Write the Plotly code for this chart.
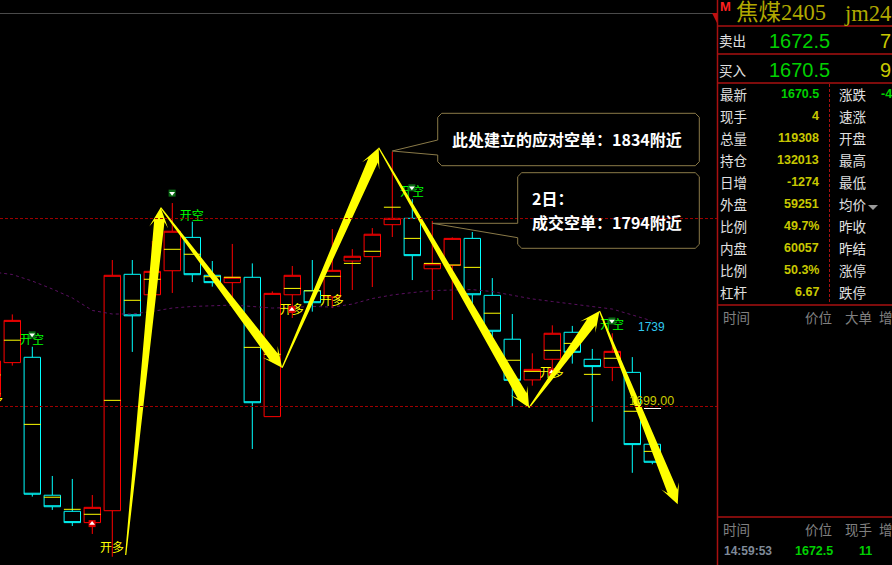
import plotly.graph_objects as go
import math

FONT = "Noto Sans CJK SC"
W, H, CW = 892, 565, 717

# ---- data ----
bars = list(range(-1, 33))
opens = [1703.9, 1721.1, 1723.8, 1654.3, 1646.2, 1640.5, 1646.5, 1765.6, 1755.3, 1767.4, 1784.2, 1765.1, 1761.4, 1764.1, 1693.9, 1755.3, 1757.3, 1754.2, 1772.3, 1774.5, 1790.6, 1793.8, 1768.4, 1770.1, 1783.7, 1755.0, 1732.9, 1712.4, 1722.8, 1736.4, 1722.8, 1718.7, 1716.2, 1680.0]
closes = [1721.9, 1742.4, 1654.8, 1648.5, 1640.5, 1648.2, 1765.1, 1744.7, 1767.1, 1787.3, 1765.4, 1761.4, 1764.1, 1700.9, 1756.0, 1765.1, 1751.3, 1767.6, 1774.7, 1785.8, 1793.8, 1775.0, 1770.9, 1783.7, 1755.3, 1736.9, 1712.2, 1717.7, 1735.9, 1726.3, 1719.1, 1726.8, 1679.8, 1670.9]
highs = [1723.4, 1745.4, 1729.1, 1664.0, 1662.5, 1654.4, 1772.8, 1772.8, 1782.4, 1801.5, 1792.1, 1772.3, 1780.9, 1771.1, 1757.0, 1769.8, 1772.8, 1788.4, 1778.3, 1788.9, 1827.4, 1803.5, 1792.5, 1784.2, 1786.9, 1763.7, 1745.6, 1725.8, 1739.9, 1739.6, 1728.0, 1735.9, 1723.9, 1680.0]
lows = [1703.3, 1719.6, 1653.6, 1646.9, 1638.8, 1634.8, 1623.3, 1726.5, 1755.3, 1756.2, 1761.7, 1759.4, 1749.1, 1677.6, 1693.9, 1743.6, 1746.8, 1748.6, 1757.7, 1759.2, 1784.4, 1762.7, 1752.7, 1742.6, 1747.6, 1731.0, 1698.9, 1709.5, 1715.9, 1720.6, 1691.3, 1711.8, 1665.6, 1669.9]
settle = [1714.9, 1732.4, 1690.0, 1653.3, 1647.2, 1644.7, 1702.1, 1752.5, 1763.1, 1778.2, 1775.7, 1764.4, 1764.1, 1728.8, 1725.3, 1758.5, 1757.3, 1764.6, 1771.1, 1777.2, 1799.4, 1783.7, 1771.1, 1770.3, 1769.1, 1746.0, 1722.3, 1716.7, 1727.3, 1730.8, 1715.2, 1723.3, 1696.6, 1676.4]
ma = [1766.8, 1765.5, 1762.2, 1758.2, 1753.7, 1747.4, 1745.6, 1745.6, 1746.9, 1748.6, 1749.4, 1749.6, 1750.1, 1749.4, 1748.6, 1748.9, 1749.4, 1749.1, 1750.6, 1753.4, 1755.2, 1756.4, 1757.4, 1757.7, 1757.9, 1756.9, 1755.2, 1753.2, 1751.9, 1750.6, 1749.6, 1748.1, 1745.1, 1742.1]

wave_x = [5.67, 7.42, 13.49, 18.32, 25.84, 29.36, 33.27]
wave_y = [1624.2, 1799.2, 1718.5, 1829.4, 1698.4, 1747.1, 1649.7]

long_x, long_y = [-1.06, 4.99, 13.97, 15.97, 26.97], [1702.5, 1627.2, 1746.9, 1751.9, 1715.4]
short_x, short_y = [0.99, 8.97, 19.98, 29.98], [1732.1, 1794.6, 1806.5, 1739.6]
buy_x, buy_y = [3.99, 13.98, 26.97], [1640.0, 1747.9, 1716.4]
sell_x, sell_y = [7.99, 0.99, 19.98, 29.98], [1806.5, 1735.1, 1809.2, 1742.1]

ref_levels = [1793.7, 1699]
X0, X1 = -0.615, 35.235
Y0, Y1 = 1619.15, 1903.8
PXX, PXY = 20.0, 1.985

callouts = [
    dict(l=437.7, r=699.3, t=113.3, b=165.7, tipx=392.3, tipy=151.0, j1=140.0, j2=155.0),
    dict(l=517.7, r=699.3, t=172.7, b=248.3, tipx=432.3, tipy=223.3, j1=223.3, j2=237.7),
]
rows_left = ["最新", "现手", "总量", "持仓", "日增", "外盘", "比例", "内盘", "比例", "杠杆"]
rows_val = ["1670.5", "4", "119308", "132013", "-1274", "59251", "49.7%", "60057", "50.3%", "6.67"]
rows_right = ["涨跌", "速涨", "开盘", "最高", "最低", "均价", "昨收", "昨结", "涨停", "跌停"]


def px_x(x):
    return x / W


def px_y(y):
    return 1 - y / H


def arrow(x0, y0, x1, y1):
    ax, ay = x0 * PXX, y0 * PXY
    bx, by = x1 * PXX, y1 * PXY
    L = math.hypot(bx - ax, by - ay)
    ux, uy = (bx - ax) / L, (by - ay) / L
    nx, ny = -uy, ux
    prof = [(0, 0.6), (L - 14, 5.2), (L - 20, 9.5), (L, 0), (L - 20, -9.5), (L - 14, -5.2), (0, -0.6), (0, 0.6)]
    xs = [(ax + ux * s + nx * w) / PXX for s, w in prof]
    ys = [(ay + uy * s + ny * w) / PXY for s, w in prof]
    return xs, ys


fig = go.Figure()
fig.add_trace(go.Candlestick(
    x=bars, open=opens, high=highs, low=lows, close=closes, whiskerwidth=0,
    increasing=dict(line=dict(color="#ff0000", width=1), fillcolor="#000000"),
    decreasing=dict(line=dict(color="#00ffff", width=1), fillcolor="#000000"),
    hoverinfo="skip", showlegend=False))
fig.add_trace(go.Scatter(x=bars, y=settle, mode="markers", hoverinfo="skip", showlegend=False,
                         marker=dict(symbol="line-ew", size=12, color="#ffff00",
                                     line=dict(color="#ffff00", width=1))))
fig.add_trace(go.Scatter(x=bars, y=ma, mode="lines", hoverinfo="skip", showlegend=False,
                         line=dict(color="#5a1060", width=1, dash="dot")))
fig.add_trace(go.Scatter(x=long_x, y=long_y, mode="text", text=["开多"] * 5, hoverinfo="skip", showlegend=False,
                         textfont=dict(family=FONT, size=12, color="#ffff00")))
fig.add_trace(go.Scatter(x=short_x, y=short_y, mode="text", text=["开空"] * 4, hoverinfo="skip", showlegend=False,
                         textfont=dict(family=FONT, size=12, color="#00ff00")))
fig.add_trace(go.Scatter(x=buy_x, y=buy_y, mode="markers", hoverinfo="skip", showlegend=False,
                         marker=dict(symbol="square", size=7, color="#e00000")))
fig.add_trace(go.Scatter(x=buy_x, y=buy_y, mode="markers", hoverinfo="skip", showlegend=False,
                         marker=dict(symbol="triangle-up", size=5, color="#ffffff")))
fig.add_trace(go.Scatter(x=sell_x, y=sell_y, mode="markers", hoverinfo="skip", showlegend=False,
                         marker=dict(symbol="square", size=7, color="#0a6a14")))
fig.add_trace(go.Scatter(x=sell_x, y=sell_y, mode="markers", hoverinfo="skip", showlegend=False,
                         marker=dict(symbol="triangle-down", size=5, color="#ffffff")))
for i in range(len(wave_x) - 1):
    xs, ys = arrow(wave_x[i], wave_y[i], wave_x[i + 1], wave_y[i + 1])
    fig.add_trace(go.Scatter(x=xs, y=ys, mode="lines", fill="toself", fillcolor="#ffff00", hoverinfo="skip",
                             showlegend=False, line=dict(color="#ffff00", width=0)))

shapes = []
for lv in ref_levels:
    shapes.append(dict(type="line", xref="x", yref="y", x0=X0, x1=X1, y0=lv, y1=lv,
                       line=dict(color="#a00000", width=1, dash="3px,2px")))
def hline(y, x0, x1, c="#a81010"):
    shapes.append(dict(type="line", xref="paper", yref="paper", x0=px_x(x0), x1=px_x(x1), y0=px_y(y), y1=px_y(y),
                       line=dict(color=c, width=1.5 if c == "#a81010" else 1)))
hline(13.5, 0, CW, "#4a4a4a")
for yy in (26, 54, 83, 305, 517):
    hline(yy, CW, W)
shapes.append(dict(type="line", xref="paper", yref="paper", x0=px_x(717.5), x1=px_x(717.5), y0=0, y1=1,
                   line=dict(color="#a81010", width=1.5)))
shapes.append(dict(type="line", xref="paper", yref="paper", x0=px_x(829.5), x1=px_x(829.5), y0=px_y(84), y1=px_y(302),
                   line=dict(color="#a81010", width=1, dash="3px,2px")))
shapes.append(dict(type="line", xref="paper", yref="paper", x0=px_x(644), x1=px_x(661), y0=px_y(408.5), y1=px_y(408.5),
                   line=dict(color="#ffffff", width=1)))


def pth(points):
    return "M " + " L ".join(f"{px_x(x):.5f} {px_y(y):.5f}" for x, y in points)


shapes.append(dict(type="path", xref="paper", yref="paper", path=pth([(712, 13), (717, 13), (717, 23)]) + " Z",
                   fillcolor="#c01010", line=dict(width=0)))
shapes.append(dict(type="path", xref="paper", yref="paper", path=pth([(868, 205), (878, 205), (873, 210)]) + " Z",
                   fillcolor="#9a9a9a", line=dict(width=0)))
for c in callouts:
    r = 4
    pts = [(c["tipx"], c["tipy"]), (c["l"], c["j1"]), (c["l"], c["t"] + r), (c["l"] + r, c["t"]),
           (c["r"] - r, c["t"]), (c["r"], c["t"] + r), (c["r"], c["b"] - r), (c["r"] - r, c["b"]),
           (c["l"] + r, c["b"]), (c["l"], c["b"] - r), (c["l"], c["j2"]), (c["tipx"], c["tipy"])]
    shapes.append(dict(type="path", xref="paper", yref="paper", path=pth(pts), line=dict(color="#8a7a48", width=1)))

anns = []
def t(x, y, s, size=13, color="#e0e0e0", anchor="left", family=FONT, bold=False):
    dx = {"left": -2, "right": 2, "center": 0}[anchor]
    anns.append(dict(x=px_x(x + dx), y=px_y(y - 1), xref="paper", yref="paper", text=f"<b>{s}</b>" if bold else s,
                     showarrow=False, xanchor=anchor, yanchor="middle",
                     font=dict(family=family, size=size, color=color)))

SANS = "Liberation Sans"
SERIF = "Liberation Serif, Noto Sans CJK SC"
YEL = "#c8c800"
GRN = "#00d000"
GREY = "#808080"
t(651.7, 327.5, "1739", 12, "#30c8f0", "center", SANS)
t(651.7, 402.2, "1699.00", 12.5, "#c8c800", "center", SANS)
t(452, 140, "此处建立的应对空单：1834附近", 16, "#ffffff", bold=True)
t(532, 199.5, "2日：", 16, "#ffffff", bold=True)
t(532, 222.5, "成交空单：1794附近", 16, "#ffffff", bold=True)

t(720, 7.5, "M", 13, "#ff2020", family=SANS, bold=True)
t(736, 13.5, "焦煤2405", 22.5, "#b0a800", family=SERIF)
t(844, 14, "jm2405", 22.5, "#b0a800", family=SERIF)
t(719, 41.5, "卖出", 13.5)
t(719, 70.5, "买入", 13.5)
t(769, 42, "1672.5", 20, GRN, family=SANS)
t(769, 71, "1670.5", 20, GRN, family=SANS)
t(891, 42, "7", 20, YEL, "right", SANS)
t(891, 71, "9", 20, YEL, "right", SANS)
for i in range(10):
    y = 95.3 + i * 21.95
    t(720, y, rows_left[i], 13.5)
    t(819, y, rows_val[i], 12.5, GRN if i == 0 else YEL, "right", SANS, True)
    t(839, y, rows_right[i], 13.5)
t(881, 95.3, "-4", 12.5, GRN, family=SANS, bold=True)
for y, names in ((318, ("时间", "价位", "大单", "增")), (530, ("时间", "价位", "现手", "增"))):
    t(723, y, names[0], 13.5, GREY)
    t(805, y, names[1], 13.5, GREY)
    t(845, y, names[2], 13.5, GREY)
    t(879, y, names[3], 13.5, GREY)
t(724, 552, "14:59:53", 12, "#7f8a98", family=SANS, bold=True)
t(795, 552, "1672.5", 12.5, GRN, family=SANS, bold=True)
t(872, 552, "11", 12.5, GRN, "right", SANS, True)

fig.update_layout(
    width=W, height=H, margin=dict(l=0, r=0, t=0, b=0), paper_bgcolor="#000000", plot_bgcolor="#000000",
    showlegend=False, boxgap=0.18, boxgroupgap=0, shapes=shapes, annotations=anns,
    xaxis=dict(domain=[0, CW / W], range=[X0, X1], visible=False, rangeslider=dict(visible=False), fixedrange=True),
    yaxis=dict(domain=[0, 1], range=[Y0, Y1], visible=False, fixedrange=True),
)
fig.write_html("out.html", config=dict(displayModeBar=False),
               post_script="document.body.style.margin='0';document.body.style.overflow='hidden';document.body.style.background='#000';")
